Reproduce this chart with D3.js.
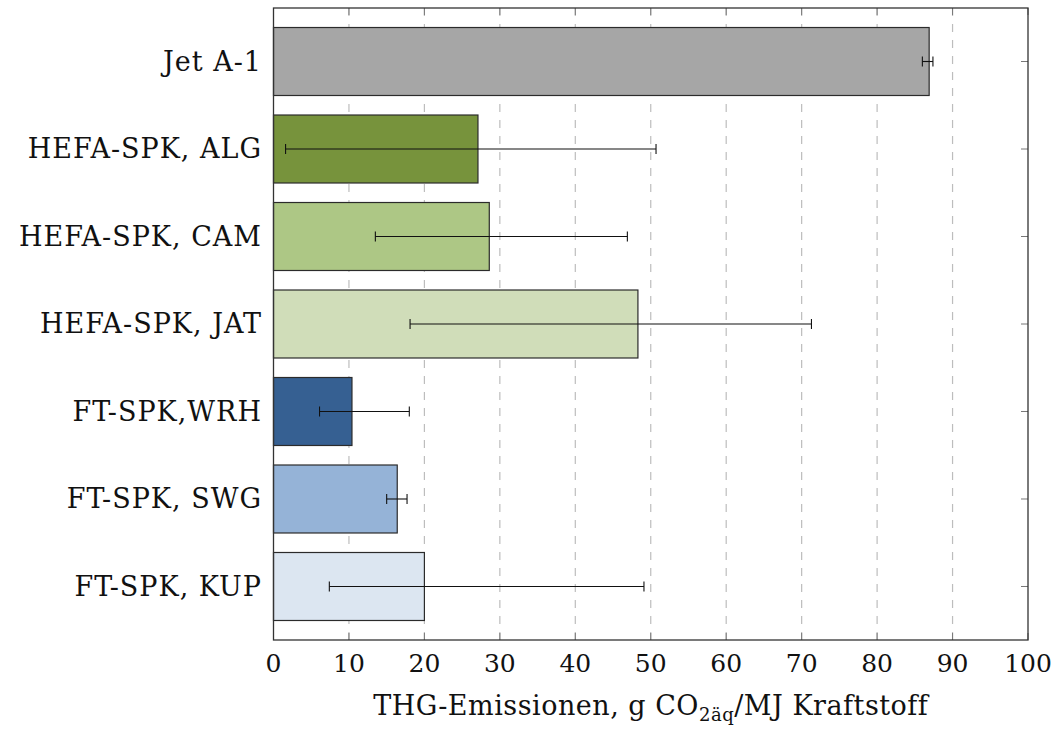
<!DOCTYPE html>
<html>
<head>
<meta charset="utf-8">
<script src="https://cdn.jsdelivr.net/npm/d3@7"></script>
<style>
  body { margin: 0; background: #fff; }
  text { font-family: "DejaVu Serif", "Liberation Serif", serif; fill: #111; }
</style>
</head>
<body>
<svg id="chart" width="1056" height="729"></svg>
<script>
const categories = ['Jet A-1', 'HEFA-SPK, ALG', 'HEFA-SPK, CAM', 'HEFA-SPK, JAT', 'FT-SPK,WRH', 'FT-SPK, SWG', 'FT-SPK, KUP']
const values = [86.9, 27.1, 28.6, 48.3, 10.4, 16.4, 20.0]
const errLow = [86.0, 1.6, 13.5, 18.1, 6.1, 15.0, 7.4]
const errHigh = [87.4, 50.7, 46.9, 71.3, 18.0, 17.7, 49.1]
const colors = ['#a6a6a6', '#77933c', '#adc785', '#d0ddb9', '#366092', '#95b3d7', '#dce6f1']
const xTicks = [0, 10, 20, 30, 40, 50, 60, 70, 80, 90, 100]

const svg = d3.select('#chart')
const pLeft = 273.5, pRight = 1028, pTop = 8, pBottom = 640

const x = d3.scaleLinear().domain([0, 100]).range([pLeft, pRight])
const y = d3.scaleBand().domain(categories).range([pTop, pBottom]).paddingInner(0.223).paddingOuter(0.223)

// dashed grid behind bars
svg.append('g')
  .selectAll('line')
  .data(xTicks.slice(1, -1))
  .enter()
  .append('line')
    .attr('x1', d => x(d)).attr('x2', d => x(d))
    .attr('y1', pTop).attr('y2', pBottom)
    .attr('stroke', '#bdbdbd')
    .attr('stroke-width', 1.2)
    .attr('stroke-dasharray', '8,8')

// ticks on the frame (inside)
const tickLen = 7
const tk = svg.append('g').attr('stroke', '#777').attr('stroke-width', 1)
xTicks.forEach(d => {
  tk.append('line').attr('x1', x(d)).attr('x2', x(d)).attr('y1', pBottom).attr('y2', pBottom - tickLen)
  tk.append('line').attr('x1', x(d)).attr('x2', x(d)).attr('y1', pTop).attr('y2', pTop + tickLen)
})
categories.forEach(c => {
  const cy = y(c) + y.bandwidth() / 2
  tk.append('line').attr('x1', pRight).attr('x2', pRight - tickLen).attr('y1', cy).attr('y2', cy)
  tk.append('line').attr('x1', pLeft).attr('x2', pLeft + tickLen).attr('y1', cy).attr('y2', cy)
})

// bars
svg.append('g')
  .selectAll('rect')
  .data(categories)
  .enter()
  .append('rect')
    .attr('x', x(0))
    .attr('y', d => y(d))
    .attr('width', (d, i) => x(values[i]) - x(0))
    .attr('height', y.bandwidth())
    .attr('fill', (d, i) => colors[i])
    .attr('stroke', '#2b2b2b')
    .attr('stroke-width', 1.2)

// error bars
const eb = svg.append('g').attr('stroke', '#111').attr('stroke-width', 1.1)
categories.forEach((c, i) => {
  const cy = y(c) + y.bandwidth() / 2
  eb.append('line').attr('x1', x(errLow[i])).attr('x2', x(errHigh[i])).attr('y1', cy).attr('y2', cy)
  eb.append('line').attr('x1', x(errLow[i])).attr('x2', x(errLow[i])).attr('y1', cy - 5).attr('y2', cy + 5)
  eb.append('line').attr('x1', x(errHigh[i])).attr('x2', x(errHigh[i])).attr('y1', cy - 5).attr('y2', cy + 5)
})

// frame
svg.append('rect')
  .attr('x', pLeft).attr('y', pTop)
  .attr('width', pRight - pLeft).attr('height', pBottom - pTop)
  .attr('fill', 'none')
  .attr('stroke', '#333')
  .attr('stroke-width', 1.3)

// x tick labels
svg.append('g')
  .selectAll('text')
  .data(xTicks)
  .enter()
  .append('text')
    .attr('x', d => x(d))
    .attr('y', 672)
    .attr('text-anchor', 'middle')
    .attr('font-size', '25px')
    .text(d => d)

// category labels
svg.append('g')
  .selectAll('text')
  .data(categories)
  .enter()
  .append('text')
    .attr('x', 262)
    .attr('y', d => y(d) + y.bandwidth() / 2)
    .attr('dy', '0.35em')
    .attr('text-anchor', 'end')
    .attr('font-size', '27px')
    .attr('letter-spacing', '1px')
    .text(d => d)

// axis title
const title = svg.append('text')
  .attr('x', (pLeft + pRight) / 2)
  .attr('y', 715)
  .attr('text-anchor', 'middle')
  .attr('font-size', '27px')
  .attr('letter-spacing', '0.5px')
title.append('tspan').text('THG-Emissionen, g CO')
title.append('tspan').attr('font-size', '18px').attr('dy', 6).text('2äq')
title.append('tspan').attr('dy', -6).text('/MJ Kraftstoff')
</script>
</body>
</html>
